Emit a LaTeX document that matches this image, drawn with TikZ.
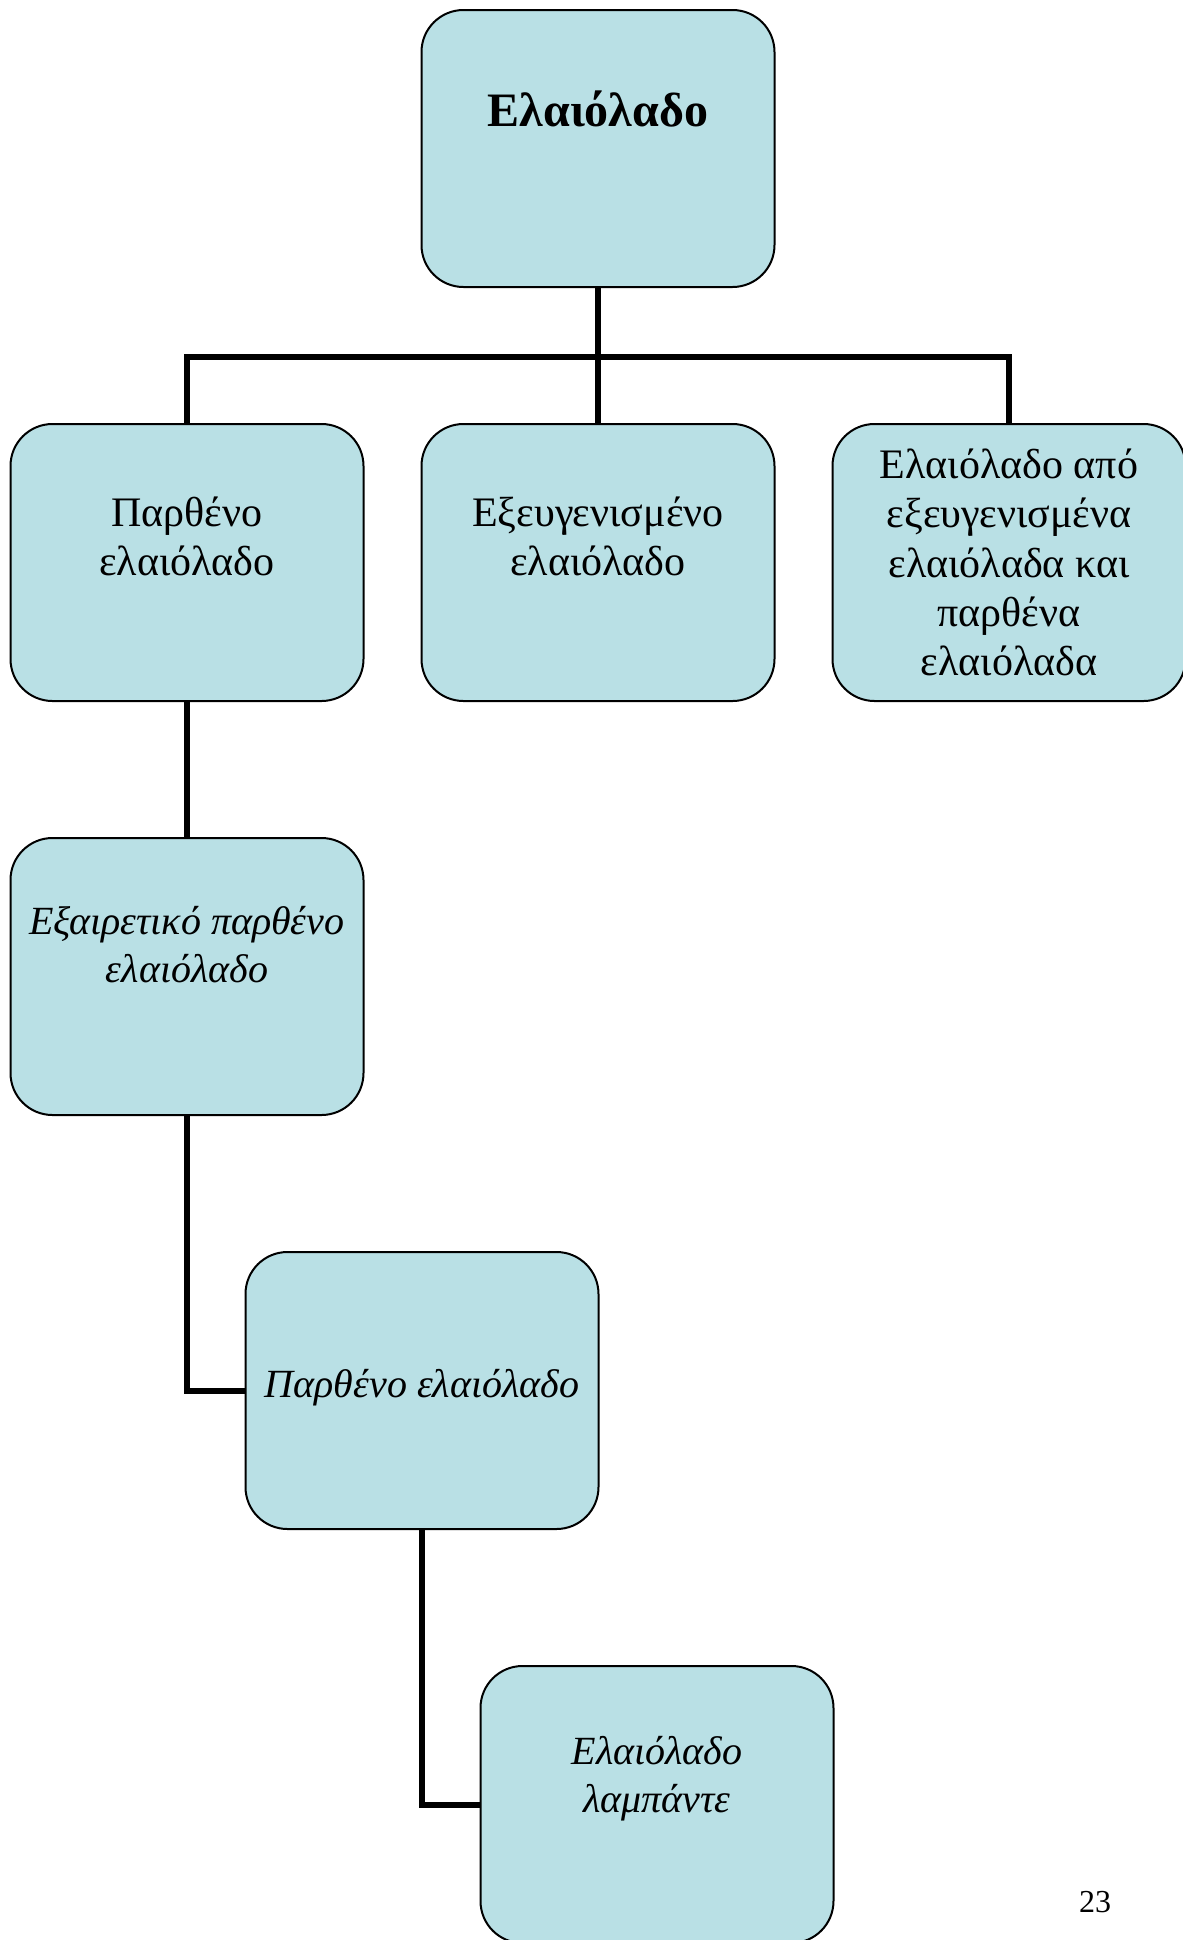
\documentclass[tikz,border=0pt]{standalone}
\usepackage{fontspec}
\setmainfont{Liberation Serif}
\usetikzlibrary{positioning}
\definecolor{paleAqua}{RGB}{185,224,229}
\tikzset{%
  % Specifications for style of nodes:
         base/.style = {rectangle, rounded corners=21pt, draw=black,
                        line width=1pt, fill=paleAqua,
                        minimum width=176.5pt, minimum height=138.5pt},
     headtext/.style = {font=\fontsize{24}{27}\selectfont\bfseries},
      boxtext/.style = {align=center, font=\fontsize{21}{24.6}\selectfont},
    slanttext/.style = {boxtext, font=\fontsize{20}{24}\selectfont\itshape},
    connector/.style = {draw=black, line width=3pt},
}
\begin{document}
\begin{tikzpicture}[x=0.5pt, y=-0.5pt, node distance=207pt]
  \useasboundingbox (0,0) rectangle (1183,1940);
  % Specification of nodes (position, etc.)
  \node (oliveOil)      [base] at (598,148.5)                      {};
  \node (refined)       [base, below of=oliveOil]                  {};
  \node (virgin)        [base, left of=refined, xshift=1.5pt]      {};
  \node (blend)         [base, right of=refined, xshift=-1.5pt]    {};
  \node (extraVirgin)   [base, below of=virgin]                    {};
  \node (virginOil)     [base, below of=extraVirgin, xshift=117.5pt] {};
  \node (lampante)      [base, below of=virginOil, xshift=117.5pt] {};

  % Texts inside the boxes
  \node (oliveOilText)    [headtext]  at ([yshift=19.5pt]oliveOil.center)  {Ελαιόλαδο};
  \node (refinedText)     [boxtext]   at ([yshift=13pt]refined.center)     {Εξευγενισμένο\\ελαιόλαδο};
  \node (virginText)      [boxtext]   at ([yshift=13pt]virgin.center)      {Παρθένο\\ελαιόλαδο};
  \node (blendText)       [boxtext]   at (blend.center)  {Ελαιόλαδο από\\εξευγενισμένα\\ελαιόλαδα και\\παρθένα\\ελαιόλαδα};
  \node (extraVirginText) [slanttext] at ([yshift=16pt]extraVirgin.center) {Εξαιρετικό παρθένο\\ελαιόλαδο};
  \node (virginOilText)   [slanttext] at ([yshift=1.5pt]virginOil.center)  {Παρθένο ελαιόλαδο};
  \node (lampanteText)    [slanttext] at ([yshift=13pt]lampante.center)    {Ελαιόλαδο\\λαμπάντε};

  \node (pageNo) [font=\fontsize{16}{18}\selectfont] at (1095,1902) {23};

  % Specification of lines between nodes specified above
  \coordinate (bus) at ([yshift=-34.5pt]oliveOil.south);
  \draw[connector]    (oliveOil) -- (refined);
  \draw[connector]         (bus) -| (virgin);
  \draw[connector]         (bus) -| (blend);
  \draw[connector]      (virgin) -- (extraVirgin);
  \draw[connector] (extraVirgin) |- (virginOil);
  \draw[connector]   (virginOil) |- (lampante);
\end{tikzpicture}
\end{document}
